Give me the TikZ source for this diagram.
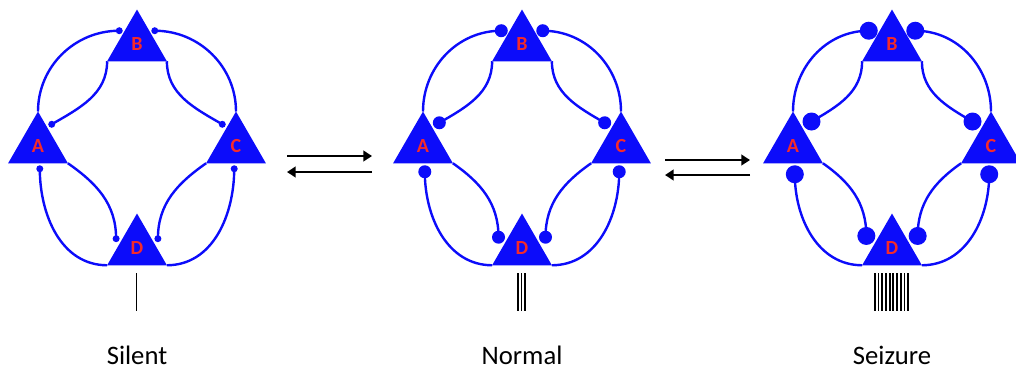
\documentclass[tikz,border=0pt]{standalone}
\usepackage{fontspec}
\setmainfont{Carlito}
\usetikzlibrary{shapes.geometric,arrows.meta,calc}
\definecolor{neuron}{HTML}{0C0CFA}
\definecolor{cellred}{HTML}{F52A2A}

\begin{document}
\begin{tikzpicture}[x=0.75pt, y=0.75pt,
  cellbox/.style={regular polygon, regular polygon sides=3, minimum size=51.75pt, inner sep=0pt, outer sep=0pt,
    fill=neuron, text=cellred, font=\fontsize{15}{18}\selectfont\bfseries},
  wire/.style={neuron, line width=1.8pt},
  syn/.style={circle, fill=neuron, inner sep=0pt, outer sep=0pt, minimum size=#1},
  spike/.style={black, line width=1.4pt},
  arr/.style={-{Triangle[length=6.5pt, width=8pt]}, black, line width=1.6pt},
  statelbl/.style={font=\fontsize{20}{24}\selectfont, anchor=base}
]
  \useasboundingbox (0,0) rectangle (1016,-369);

  \foreach \p/\dx/\dsize/\off/\n/\lbl in {s/0/5.25pt/5.5/1/Silent, n/385/9.75pt/8.5/3/Normal, z/755/13.5pt/11/10/Seizure} {
  \begin{scope}[shift={(\dx,0)}]
    \node[cellbox] (\p A) at (38,-146)  {A};
    \node[cellbox] (\p B) at (137,-44)  {B};
    \node[cellbox] (\p C) at (236,-146) {C};
    \node[cellbox] (\p D) at (137,-248) {D};

    % outer arcs up to B
    \draw[wire] (\p A.corner 1) to[out=90, in=180] ($(\p B.corner 1)!0.41!(\p B.corner 2)+(180:\off)$) node[syn=\dsize] (\p AB) {};
    \draw[wire] (\p C.corner 1) to[out=90, in=0] ($(\p B.corner 1)!0.41!(\p B.corner 3)+(0:\off)$) node[syn=\dsize] (\p CB) {};
    % inner arcs from B
    \draw[wire] (\p B.corner 2) to[out=-90, in=30] ($(\p A.corner 1)!0.3!(\p A.corner 3)+(30:\off)$) node[syn=\dsize] (\p BA) {};
    \draw[wire] (\p B.corner 3) to[out=-90, in=150] ($(\p C.corner 1)!0.3!(\p C.corner 2)+(150:\off)$) node[syn=\dsize] (\p BC) {};
    % inner arcs down to D
    \draw[wire] (\p A.corner 3) to[out=-35, in=90] ($(\p D.corner 1)!0.54!(\p D.corner 2)+(150:\off)$) node[syn=\dsize] (\p AD) {};
    \draw[wire] (\p C.corner 2) to[out=215, in=90] ($(\p D.corner 1)!0.54!(\p D.corner 3)+(30:\off)$) node[syn=\dsize] (\p CD) {};
    % outer arcs from D
    \draw[wire] (\p D.corner 2) to[out=180, in=-90] ($(\p A.corner 2)!0.53!(\p A.corner 3)+(-90:\off)$) node[syn=\dsize] (\p DA) {};
    \draw[wire] (\p D.corner 3) to[out=0, in=-90] ($(\p C.corner 3)!0.53!(\p C.corner 2)+(-90:\off)$) node[syn=\dsize] (\p DC) {};

    % spike train
    \foreach \k in {1,...,\n}
      \draw[spike] ({136.5+(\k-(\n+1)/2)*3.7}, -273) -- ++(0,-38);

    \node[statelbl] (\p lbl) at (137,-364) {\lbl};
  \end{scope}
  }

  % transitions
  \coordinate (fwa) at (287,-156); \coordinate (fwb) at (372,-156);
  \coordinate (bka) at (372,-172); \coordinate (bkb) at (287,-172);
  \coordinate (fwc) at (665,-160); \coordinate (fwd) at (750,-160);
  \coordinate (bkc) at (750,-175); \coordinate (bkd) at (665,-175);
  \draw[arr] (fwa) -- (fwb);
  \draw[arr] (bka) -- (bkb);
  \draw[arr] (fwc) -- (fwd);
  \draw[arr] (bkc) -- (bkd);
\end{tikzpicture}
\end{document}
